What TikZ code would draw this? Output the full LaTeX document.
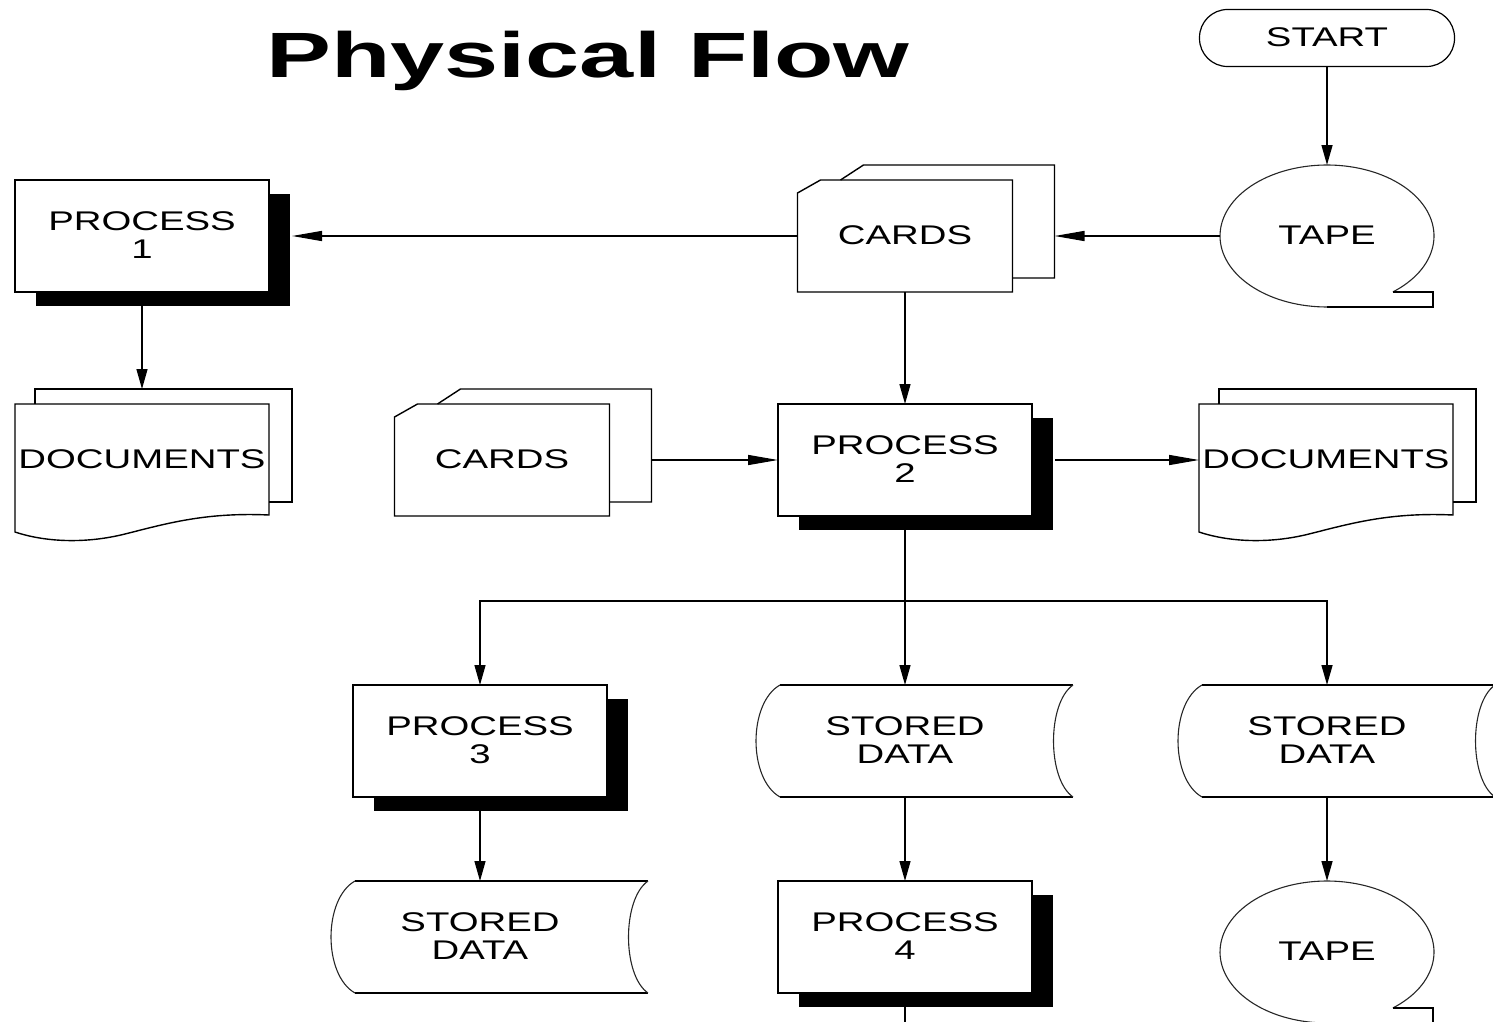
\documentclass[tikz,border=0pt]{standalone}
\usepackage{fontspec}
\setmainfont{Liberation Sans}
\usetikzlibrary{arrows.meta,shadows,shapes.geometric}

% wide, centred label text (the strut sets the lines a little low in the box)
\newcommand{\flbl}[1]{\scalebox{1.42}[1]{\begin{tabular}{@{}c@{}}\rule{0pt}{25.6pt}#1\end{tabular}}}

% punched cards: a back card peeking out up-right, front card with a cut corner
\newcommand{\cardsheets}[1]{%
  \draw[outline,shift={(#1.north west)}] (43,0) -- (66,-15) -- (257,-15) -- (257,98) -- (215,98);
  \draw[outline,shift={(#1.north west)}] (0,13) -- (23,0) -- (215,0) -- (215,112) -- (0,112) -- cycle;}

% multiple documents: back sheet plus front sheet with a wavy bottom
\newcommand{\docsheets}[1]{%
  \draw[outline,shift={(#1.north west)}] (20,0) -- (20,-15) -- (277,-15) -- (277,98) -- (254,98);
  \draw[outline,shift={(#1.north west)}] (0,0) -- (254,0) -- (254,111)
     .. controls (190,108) and (150,120) .. (110,130)
     .. controls (70,140) and (30,138) .. (0,128) -- cycle;}

% stored data drum
\newcommand{\storeddrum}[1]{%
  \draw[outline,shift={(#1.center)}] (-125,-56) -- (168,-56) (-125,56) -- (168,56);
  \draw[curve,shift={(#1.center)}] (168,-56) .. controls (142,-38) and (142,38) .. (168,56);
  \draw[curve,shift={(#1.center)}] (-125,56) .. controls (-157,38) and (-157,-38) .. (-125,-56);}

% magnetic tape reel with its tail
\newcommand{\tapereel}[1]{%
  \draw[curve,shift={(#1.center)}] plot[domain=52:-270,samples=120,variable=\t] ({107*cos(\t)},{71*sin(\t)});
  \draw[outline,shift={(#1.center)}] (0,71) -- (106,71) -- (106,56) -- (66,56);}

\begin{document}
\begin{tikzpicture}[x=1pt,y=-1pt,
  every node/.style={font=\fontsize{27}{28}\selectfont, inner sep=0pt, outer sep=0pt},
  outline/.style={line width=1.4pt, line join=miter},
  curve/.style={line width=1.1pt, black!85},
  procbox/.style={draw, line width=1.4pt, fill=white, minimum width=254pt, minimum height=112pt,
    drop shadow={shadow xshift=21pt, shadow yshift=-14pt, opacity=1, fill=black}},
  cardslot/.style={minimum width=215pt, minimum height=112pt},
  docslot/.style={minimum width=254pt, minimum height=112pt},
  drumslot/.style={minimum width=250pt, minimum height=112pt},
  reelslot/.style={ellipse, minimum width=214pt, minimum height=142pt},
  terminal/.style={draw, line width=1.2pt, rounded corners=28pt, minimum width=255pt, minimum height=57pt},
  link/.style={line width=1.4pt},
  varrow/.style={link, -{Triangle[length=20pt,width=11pt]}},
  harrow/.style={link, -{Triangle[length=30pt,width=10pt]}},
]
\useasboundingbox (0,0) rectangle (1493,1022);
\clip (0,0) rectangle (1493,1022);

% title
\node[anchor=base, font=\fontsize{64}{70}\selectfont\bfseries] (title) at (588,78) {\scalebox{1.52}[1]{Physical Flow}};

% nodes
\node[terminal] (start) at (1327,38) {\flbl{START}};
\node[reelslot] (tape1) at (1327,236) {\flbl{TAPE}};
\node[cardslot] (cards1) at (905,236) {\flbl{CARDS}};
\node[procbox] (p1) at (142,236) {\flbl{PROCESS\\1}};
\node[docslot] (docs1) at (142,460) {\flbl{DOCUMENTS}};
\node[cardslot] (cards2) at (502,460) {\flbl{CARDS}};
\node[procbox] (p2) at (905,460) {\flbl{PROCESS\\2}};
\node[docslot] (docs2) at (1326,460) {\flbl{DOCUMENTS}};
\node[procbox] (p3) at (480,741) {\flbl{PROCESS\\3}};
\node[drumslot] (sd1) at (905,741) {\flbl{STORED\\DATA}};
\node[drumslot] (sd2) at (1327,741) {\flbl{STORED\\DATA}};
\node[drumslot] (sd3) at (480,937) {\flbl{STORED\\DATA}};
\node[procbox] (p4) at (905,937) {\flbl{PROCESS\\4}};
\node[reelslot] (tape2) at (1327,952) {\flbl{TAPE}};

% shape outlines
\tapereel{tape1}
\tapereel{tape2}
\cardsheets{cards1}
\cardsheets{cards2}
\docsheets{docs1}
\docsheets{docs2}
\storeddrum{sd1}
\storeddrum{sd2}
\storeddrum{sd3}

% connectors
\coordinate (split) at (905,601);
\coordinate (exit) at (905,1022);
\draw[varrow] (start.south) -- (tape1.north);
\draw[harrow] (tape1.west) -- ([xshift=42pt]cards1.east);
\draw[harrow] (cards1.west) -- ([xshift=23pt]p1.east);
\draw[varrow] (p1.south) -- ([yshift=15pt]docs1.north);
\draw[varrow] (cards1.south) -- (p2.north);
\draw[harrow] ([xshift=42pt]cards2.east) -- (p2.west);
\draw[harrow] ([xshift=23pt]p2.east) -- (docs2.west);
\draw[varrow] (p2.south) -- (sd1.north);
\draw[varrow] (split) -| (p3.north);
\draw[varrow] (split) -| (sd2.north);
\draw[varrow] (p3.south) -- (sd3.north);
\draw[varrow] (sd1.south) -- (p4.north);
\draw[varrow] (sd2.south) -- (tape2.north);
\draw[link] (p4.south) -- (exit);
\end{tikzpicture}
\end{document}
